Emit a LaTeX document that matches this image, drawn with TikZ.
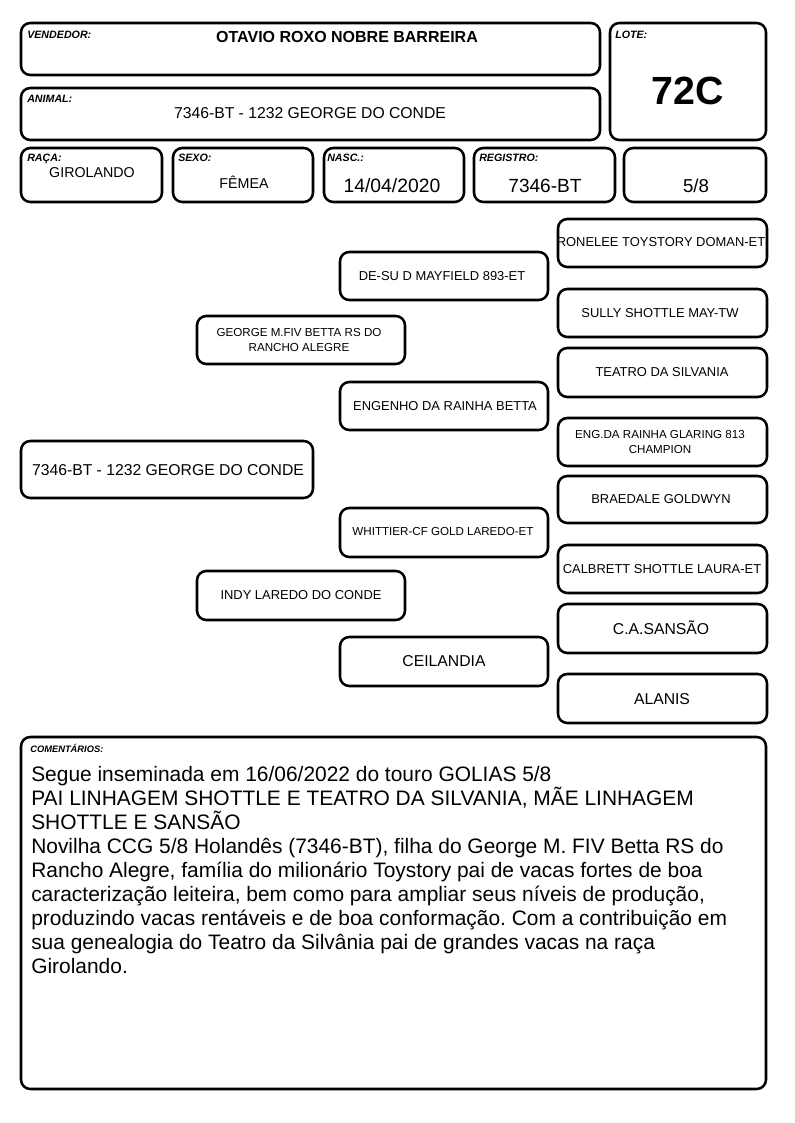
\documentclass[tikz,border=0pt]{standalone}
\usepackage{fontspec}
\setmainfont{Liberation Sans}
\frenchspacing
\begin{document}
\begin{tikzpicture}[x=0.75pt,y=-0.75pt,line join=round,
  box/.style={draw=black,line width=1.9pt,rounded corners=7pt},
  lbl/.style={anchor=base west,inner sep=0pt,font=\fontsize{8}{9}\selectfont\bfseries\itshape},
  txt/.style={inner sep=0pt,align=center},
  ped/.style={txt,font=\fontsize{9.7}{12}\selectfont},
  pedsm/.style={txt,font=\fontsize{8.7}{11.5}\selectfont},
  pedbig/.style={txt,font=\fontsize{11.8}{14}\selectfont}]
\useasboundingbox (0,0) rectangle (794,1123);
% cabecalho
\draw[box] (21,23) rectangle (600,75);
\draw[box] (610,23) rectangle (766,140);
\draw[box] (21,88) rectangle (600,140);
\draw[box] (21,148) rectangle (162,202);
\draw[box] (173,148) rectangle (313,202);
\draw[box] (324,148) rectangle (464,202);
\draw[box] (474,148) rectangle (615,202);
\draw[box] (624,148) rectangle (766,202);
\node[lbl] (lvend) at (27,39) {VENDEDOR:};
\node[lbl] (llote) at (615,39) {LOTE:};
\node[lbl] (lanim) at (27,103) {ANIMAL:};
\node[lbl] (lraca) at (27,162) {RAÇA:};
\node[lbl] (lsexo) at (178,162) {SEXO:};
\node[lbl] (lnasc) at (327,162) {NASC.:};
\node[lbl] (lreg) at (479,162) {REGISTRO:};
\node[txt,anchor=base,font=\fontsize{12}{14}\selectfont\bfseries] (vend) at (347,43) {OTAVIO ROXO NOBRE BARREIRA};
\node[txt,anchor=base,font=\fontsize{29.5}{32}\selectfont\bfseries] (lote) at (688,105) {72C};
\node[txt,anchor=base,font=\fontsize{11.8}{14}\selectfont] (anim) at (310,119) {7346-BT - 1232 GEORGE DO CONDE};
\node[txt,anchor=base,font=\fontsize{10.7}{13}\selectfont] (raca) at (92,178) {GIROLANDO};
\node[txt,anchor=base,font=\fontsize{10.7}{13}\selectfont] (sexo) at (244,189) {FÊMEA};
\node[txt,anchor=base,font=\fontsize{14.5}{17}\selectfont] (nasc) at (392,193) {14/04/2020};
\node[txt,anchor=base,font=\fontsize{14.3}{17}\selectfont] (reg) at (545,193) {7346-BT};
\node[txt,anchor=base,font=\fontsize{14}{17}\selectfont] (grau) at (696,193) {5/8};
% genealogia
\draw[box] (21,441) rectangle (313,498);
\draw[box] (197,316) rectangle (405,364);
\draw[box] (197,571) rectangle (405,620);
\draw[box] (340,252) rectangle (548,300);
\draw[box] (340,382) rectangle (548,430);
\draw[box] (340,508) rectangle (548,557);
\draw[box] (340,637) rectangle (548,686);
\draw[box] (558,219) rectangle (767,267);
\draw[box] (558,289) rectangle (767,337);
\draw[box] (558,348) rectangle (767,397);
\draw[box] (558,418) rectangle (767,466);
\draw[box] (558,476) rectangle (767,523);
\draw[box] (558,545) rectangle (767,593);
\draw[box] (558,604) rectangle (767,653);
\draw[box] (558,674) rectangle (767,723);
\node[txt,font=\fontsize{11.8}{14}\selectfont] (an) at (168,470) {7346-BT - 1232 GEORGE DO CONDE};
\node[pedsm] (pai) at (299,340) {GEORGE M.FIV BETTA RS DO\\RANCHO ALEGRE};
\node[ped] (mae) at (301,595) {INDY LAREDO DO CONDE};
\node[ped] (pp) at (442,276) {DE-SU D MAYFIELD 893-ET};
\node[ped] (pm) at (445,406) {ENGENHO DA RAINHA BETTA};
\node[pedsm] (mp) at (443,532) {WHITTIER-CF GOLD LAREDO-ET};
\node[pedbig] (mm) at (444,661) {CEILANDIA};
\node[ped] (ppp) at (661,242) {RONELEE TOYSTORY DOMAN-ET};
\node[ped] (ppm) at (660,313) {SULLY SHOTTLE MAY-TW};
\node[ped] (pmp) at (662,372) {TEATRO DA SILVANIA};
\node[pedsm] (pmm) at (660,442) {ENG.DA RAINHA GLARING 813\\CHAMPION};
\node[ped] (mpp) at (661,499) {BRAEDALE GOLDWYN};
\node[ped] (mpm) at (662,569) {CALBRETT SHOTTLE LAURA-ET};
\node[pedbig] (mmp) at (661,628) {C.A.SANSÃO};
\node[pedbig] (mmm) at (662,699) {ALANIS};
% comentarios
\draw[box] (21,737) rectangle (766,1089);
\node[lbl,font=\fontsize{7}{8}\selectfont\bfseries\itshape] (lcom) at (30,752) {COMENTÁRIOS:};
\node[anchor=north west,inner sep=0pt,align=left,font=\fontsize{15.7}{18}\selectfont] (com) at (31,766) {Segue inseminada em 16/06/2022 do touro GOLIAS 5/8\\
PAI LINHAGEM SHOTTLE E TEATRO DA SILVANIA, MÃE LINHAGEM\\
SHOTTLE E SANSÃO\\
Novilha CCG 5/8 Holandês (7346-BT), filha do George M. FIV Betta RS do\\
Rancho Alegre, família do milionário Toystory pai de vacas fortes de boa\\
caracterização leiteira, bem como para ampliar seus níveis de produção,\\
produzindo vacas rentáveis e de boa conformação. Com a contribuição em\\
sua genealogia do Teatro da Silvânia pai de grandes vacas na raça\\
Girolando.};
\end{tikzpicture}
\end{document}
